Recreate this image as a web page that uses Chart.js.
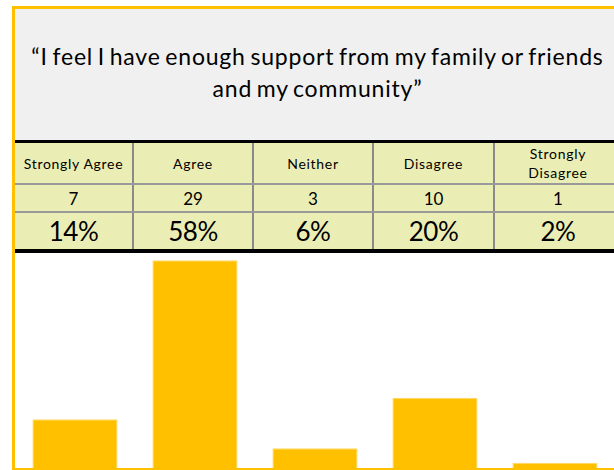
<!DOCTYPE html>
<html lang="en">
<head>
    <meta charset="UTF-8">
    <title>Support from family, friends and community</title>
    <script src="https://cdn.jsdelivr.net/npm/chart.js"></script>
    <style>
        html, body { margin: 0; padding: 0; background: #fff; overflow: hidden; }
        body { width: 614px; height: 470px; position: relative; font-family: Lato, "Open Sans", sans-serif; color: #000; }
        .frame { position: absolute; left: 12px; top: 6px; width: 640px; height: 459px;
                 border: 3px solid #ffc000; border-right: none; z-index: 5; pointer-events: none; }
        .title { position: absolute; left: 15px; top: 9px; width: 605px; height: 131px; background: #f0f0f0;
                 display: flex; align-items: center; justify-content: center; text-align: center;
                 font-size: 23px; line-height: 32px; letter-spacing: 0.8px; word-spacing: -2px; padding-bottom: 6px; box-sizing: border-box; }
        .rule { position: absolute; left: 15px; width: 620px; background: #000; }
        table { position: absolute; left: 15px; top: 143px; width: 606px; table-layout: fixed; border-collapse: collapse; }
        td { background: #ebeeb4; text-align: center; padding: 0; border-left: 2px solid #8a8a8a; }
        td:first-child { border-left: none; }
        tr.head td { height: 40px; font-size: 14px; line-height: 19px; letter-spacing: 0.7px; border-bottom: 2px solid #9a9a9a; }
        tr.count td { height: 26px; font-size: 17px; border-bottom: 2px solid #9a9a9a; }
        tr.pct td { height: 36px; font-size: 26px; letter-spacing: -0.5px; }
        #chartBox { position: absolute; left: 15px; top: 253px; width: 600px; height: 217px; }
    </style>
</head>
<body>
    <div class="frame"></div>
    <div class="title">“I feel I have enough support from my family or friends<br>and my community”</div>
    <div class="rule" style="top:140px;height:3px"></div>

    <table>
        <colgroup>
            <col style="width:118px"><col style="width:120px"><col style="width:120px"><col style="width:121px"><col>
        </colgroup>
        <tbody id="summary"></tbody>
    </table>
    <div class="rule" style="top:249px;height:4px"></div>

    <div id="chartBox"><canvas id="supportChart"></canvas></div>

    <script>
        // survey answers
        const categories = ['Strongly Agree', 'Agree', 'Neither', 'Disagree', 'Strongly Disagree'];
        const headerLabels = [['Strongly Agree'], ['Agree'], ['Neither'], ['Disagree'], ['Strongly', 'Disagree']];
        const counts = [7, 29, 3, 10, 1];
        const percents = ['14%', '58%', '6%', '20%', '2%'];

        function buildSummary() {
            const body = document.getElementById('summary');
            body.innerHTML =
                '<tr class="head">' + headerLabels.map(l => `<td>${l.join('<br>')}</td>`).join('') + '</tr>' +
                '<tr class="count">' + counts.map(c => `<td>${c}</td>`).join('') + '</tr>' +
                '<tr class="pct">' + percents.map(p => `<td>${p}</td>`).join('') + '</tr>';
        }
        buildSummary();

        const ctx = document.getElementById('supportChart').getContext('2d');
        const supportChart = new Chart(ctx, {
            type: 'bar',
            data: {
                labels: categories,
                datasets: [{
                    data: counts,
                    backgroundColor: '#ffc000',
                    borderColor: '#ffd866',
                    borderWidth: 1,
                    categoryPercentage: 1,
                    barPercentage: 0.71
                }]
            },
            options: {
                responsive: true,
                maintainAspectRatio: false,
                animation: false,
                layout: { padding: 0 },
                plugins: { legend: { display: false }, tooltip: { enabled: false } },
                scales: {
                    x: { display: false },
                    y: { display: false, min: 0, max: 30 }
                }
            }
        });
    </script>
</body>
</html>
